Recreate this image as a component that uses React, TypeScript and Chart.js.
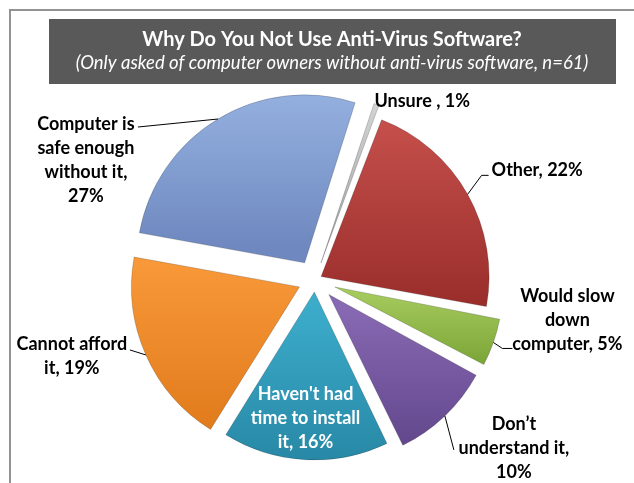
import React, { useEffect, useRef } from "react";
import { Chart, registerables } from "chart.js";

Chart.register(...registerables);

// ---------- data ----------
const categories = [
  "Unsure",
  "Other",
  "Would slow down computer",
  "Don't understand it",
  "Haven't had time to install it",
  "Cannot afford it",
  "Computer is safe enough without it",
];
const values = [1, 22, 5, 10, 16, 19, 27];
// label lines; "{v}" is replaced with the slice's value
const labelLines = [
  ["Unsure , {v}%"],
  ["Other, {v}%"],
  ["Would slow", "down", "computer, {v}%"],
  ["Don\u2019t", "understand it,", "{v}%"],
  ["Haven't had", "time to install", "it, {v}%"],
  ["Cannot afford", "it, {v}%"],
  ["Computer is", "safe enough", "without it,", "{v}%"],
];
const TITLE = "Why Do You Not Use Anti-Virus Software?";
const SUBTITLE = "(Only asked of computer owners without anti-virus software, n=61)";

// ---------- styles ----------
const W = 634;
const H = 483;
const RADIUS = 168;
const ROTATION = 17.5;
const explodePx = [18, 7, 21, 20, 12, 17, 20];
const topColors = ["#D9D9D9", "#C6504C", "#A4C95C", "#8768B2", "#3CACCB", "#F89838", "#98B4E2"];
const bottomColors = ["#A6A6A6", "#9A2E2B", "#76A032", "#5F4489", "#2686A3", "#E07A1B", "#6F89C0"];
const FONT = "Lato, 'Open Sans', sans-serif";

// label placement relative to leader anchor (outer arc point at mid-angle)
type LabelSpec = {
  dx: number; dy: number; align: CanvasTextAlign; color: string;
  leader: [number, number][]; inside?: number;
};
const labelSpecs: LabelSpec[] = [
  { dx: -2, dy: -3, align: "left", color: "#000", leader: [] },
  { dx: 24, dy: -24, align: "left", color: "#000", leader: [[14, -19], [21, -19]] },
  { dx: 74, dy: -46, align: "center", color: "#000", leader: [[9, 6], [19, 6]] },
  { dx: 69, dy: 8, align: "center", color: "#000", leader: [[9, 34]] },
  { dx: 0, dy: 0, align: "center", color: "#fff", leader: [], inside: 0.75 },
  { dx: -74, dy: -11, align: "center", color: "#000", leader: [[-16, -5]] },
  { dx: -132, dy: 5, align: "center", color: "#000", leader: [[-80, 8]] },
];
const LINE_H = 24;

function sliceYRange(i: number, cx: number, cy: number): [number, number] {
  const total = values.reduce((a, b) => a + b, 0);
  let start = ((ROTATION - 90) * Math.PI) / 180;
  for (let k = 0; k < i; k++) start += (values[k] / total) * Math.PI * 2;
  const end = start + (values[i] / total) * Math.PI * 2;
  const mid = (start + end) / 2;
  const ay = cy + Math.sin(mid) * explodePx[i];
  let lo = ay, hi = ay;
  for (let s = 0; s <= 40; s++) {
    const a = start + ((end - start) * s) / 40;
    const y = ay + Math.sin(a) * RADIUS;
    lo = Math.min(lo, y);
    hi = Math.max(hi, y);
  }
  void cx;
  return [lo, hi];
}

const decorPlugin = {
  id: "decor",
  beforeDraw(chart: any) {
    const c: CanvasRenderingContext2D = chart.ctx;
    c.save();
    c.fillStyle = "#ffffff";
    c.fillRect(0, 0, W, H);
    c.strokeStyle = "#939393";
    c.lineWidth = 2;
    c.strokeRect(10, 10, W + 40, H + 40);
    c.fillStyle = "#595959";
    c.fillRect(49, 19, 567, 65);
    c.fillStyle = "#ffffff";
    c.textAlign = "center";
    c.textBaseline = "middle";
    c.font = `bold 20px ${FONT}`;
    c.fillText(TITLE, 332, 40);
    c.font = `italic 18.5px ${FONT}`;
    c.fillText(SUBTITLE, 332, 63);
    c.restore();
  },
  beforeDatasetsDraw(chart: any) {
    const meta = chart.getDatasetMeta(0);
    meta.data.forEach((arc: any) => {
      const off = (arc.options.offset || 0) / 4;
      const circ = arc.endAngle - arc.startAngle;
      const fix = 1 - Math.sin(Math.min(Math.PI, circ));
      arc.outerRadius = RADIUS - off * fix;
    });
  },
  afterDatasetsDraw(chart: any) {
    const c: CanvasRenderingContext2D = chart.ctx;
    const meta = chart.getDatasetMeta(0);
    c.save();
    c.textBaseline = "middle";
    c.font = `bold 18px ${FONT}`;
    meta.data.forEach((arc: any, i: number) => {
      const spec = labelSpecs[i];
      const mid = (arc.startAngle + arc.endAngle) / 2;
      const t = (arc.options.offset || 0) / 4;
      const lines = labelLines[i].map((l) => l.replace("{v}", String(values[i])));
      if (spec.inside) {
        const rr = t + RADIUS * spec.inside;
        const x = arc.x + Math.cos(mid) * rr;
        const y = arc.y + Math.sin(mid) * rr;
        c.fillStyle = spec.color;
        c.textAlign = "center";
        const y0 = y - ((lines.length - 1) * LINE_H) / 2;
        lines.forEach((l, k) => c.fillText(l, x - 2, y0 + k * LINE_H));
        return;
      }
      const ax = arc.x + Math.cos(mid) * (t + RADIUS);
      const ay = arc.y + Math.sin(mid) * (t + RADIUS);
      if (spec.leader.length) {
        c.strokeStyle = "#000";
        c.lineWidth = 1;
        c.beginPath();
        c.moveTo(ax, ay);
        spec.leader.forEach(([lx, ly]) => c.lineTo(ax + lx, ay + ly));
        c.stroke();
      }
      c.fillStyle = spec.color;
      c.textAlign = spec.align;
      lines.forEach((l, k) => c.fillText(l, ax + spec.dx, ay + spec.dy + k * LINE_H));
    });
    c.restore();
  },
};

export default function App() {
  const ref = useRef<HTMLCanvasElement>(null);
  useEffect(() => {
    if (!ref.current) return;
    const chart = new Chart(ref.current, {
      type: "pie",
      data: {
        labels: categories,
        datasets: [
          {
            data: values,
            offset: explodePx.map((p) => p * 4),
            borderWidth: 1,
            borderColor: "rgba(0,0,0,0.18)",
            backgroundColor: (ctx: any) => {
              const i = ctx.dataIndex;
              const area = ctx.chart.chartArea;
              if (!area || i === undefined) return topColors[i ?? 0];
              const cx = (area.left + area.right) / 2;
              const cy = (area.top + area.bottom) / 2;
              const [lo, hi] = sliceYRange(i, cx, cy);
              const g = ctx.chart.ctx.createLinearGradient(0, lo, 0, hi);
              g.addColorStop(0, topColors[i]);
              g.addColorStop(1, bottomColors[i]);
              return g;
            },
          } as any,
        ],
      },
      options: {
        responsive: false,
        animation: false,
        rotation: ROTATION,
        radius: RADIUS,
        layout: { padding: { left: 0, right: 4, top: 77, bottom: 0 } },
        plugins: {
          legend: { display: false },
          tooltip: { enabled: false },
          title: { display: false },
        },
      } as any,
      plugins: [decorPlugin],
    });
    return () => chart.destroy();
  }, []);
  return (
    <div style={{ position: "absolute", left: 0, top: 0, width: W, height: H }}>
      <canvas ref={ref} width={W} height={H} />
    </div>
  );
}
